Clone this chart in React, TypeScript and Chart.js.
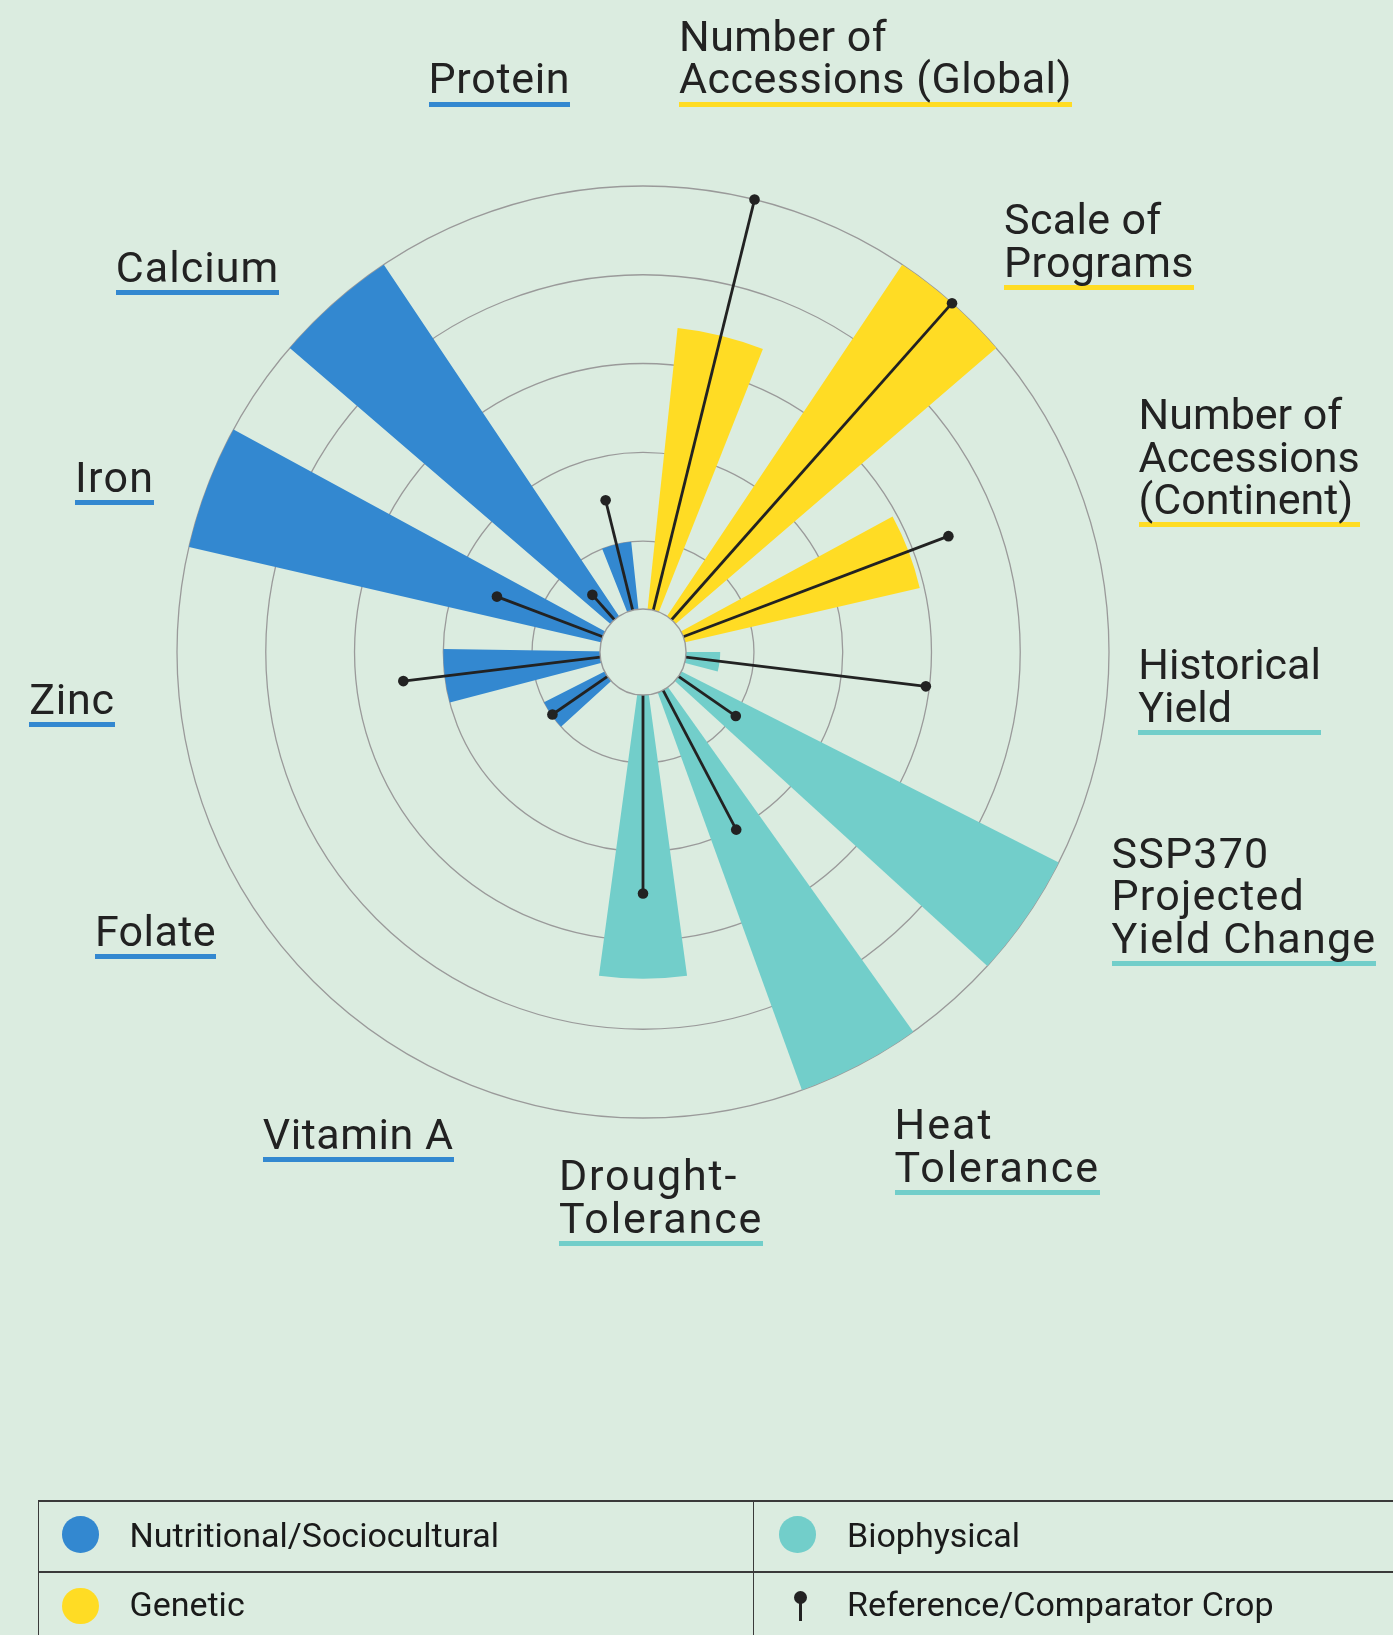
import React, { useEffect, useRef } from "react";
import { Chart, registerables } from "chart.js";

Chart.register(...registerables);

// ---------- data ----------
const categories = [
  "Number of Accessions (Global)",
  "Scale of Programs",
  "Number of Accessions (Continent)",
  "Historical Yield",
  "SSP370 Projected Yield Change",
  "Heat Tolerance",
  "Drought-Tolerance",
  "Vitamin A",
  "Folate",
  "Zinc",
  "Iron",
  "Calcium",
  "Protein",
];

const labelLines = [
  ["Number of", "Accessions (Global)"],
  ["Scale of", "Programs"],
  ["Number of", "Accessions", "(Continent)"],
  ["Historical", "Yield"],
  ["SSP370", "Projected", "Yield Change"],
  ["Heat", "Tolerance"],
  ["Drought-", "Tolerance"],
  ["Vitamin A"],
  ["Folate"],
  ["Zinc"],
  ["Iron"],
  ["Calcium"],
  ["Protein"],
];

const groups = [
  "Genetic",
  "Genetic",
  "Genetic",
  "Biophysical",
  "Biophysical",
  "Biophysical",
  "Biophysical",
  "Nutritional/Sociocultural",
  "Nutritional/Sociocultural",
  "Nutritional/Sociocultural",
  "Nutritional/Sociocultural",
  "Nutritional/Sociocultural",
  "Nutritional/Sociocultural",
];

// crop score (levels 0..5)
const cropValues = [3.42, 5, 2.95, 0.62, 5, 5, 3.43, 0, 1, 2, 5, 5, 1];
// reference / comparator crop score
const referenceValues: (number | null)[] = [5, 5, 3.43, 2.96, 1.02, 2.01, 2.47, null, 0.99, 2.47, 1.51, 0.61, 1.51];

const ringLevels = [1, 2, 3, 4, 5];

const legendItems = [
  "Nutritional/Sociocultural",
  "Biophysical",
  "Genetic",
  "Reference/Comparator Crop",
];

// ---------- styles / layout ----------
const BG = "#DBECE0";
const groupColors: Record<string, string> = {
  "Nutritional/Sociocultural": "#3388D0",
  Genetic: "#FFDC24",
  Biophysical: "#72CECA",
};
const TEXT = "#222222";
const FONT = "Roboto, 'Open Sans', sans-serif";

const sectorDeg = 360 / categories.length;
const barDeg = 15.5;
const gapDeg = sectorDeg - barDeg;
const holeLevel = 0.235;

// label anchors: left x, first baseline
const labelAnchors: [number, number][] = [
  [679, 50.6],
  [1004, 234.3],
  [1138.6, 428.8],
  [1138.3, 679],
  [1111.5, 867.6],
  [894.6, 1138.8],
  [558.9, 1190],
  [262.8, 1149],
  [94.9, 946],
  [29.2, 714],
  [75, 492],
  [115.7, 281.7],
  [428.5, 93.3],
];
// underline (block) widths
const labelWidths = [393, 189.8, 221, 182.5, 264.8, 205.4, 204.4, 190.8, 121, 85.5, 79.2, 163.7, 141.8];

let measureCtx: CanvasRenderingContext2D | null = null;
function textWidth(s: string, font: string): number {
  if (!measureCtx) measureCtx = document.createElement("canvas").getContext("2d");
  if (!measureCtx) return 0;
  measureCtx.font = font;
  return measureCtx.measureText(s).width;
}

const comparatorPlugin = {
  id: "comparator",
  afterDatasetsDraw(chart: any) {
    const scale = chart.scales.r;
    const ctx = chart.ctx;
    const cx = scale.xCenter;
    const cy = scale.yCenter;
    const start = scale.getIndexAngle(0);
    const hole = scale.getDistanceFromCenterForValue(holeLevel);
    ctx.save();
    referenceValues.forEach((v, i) => {
      if (v === null) return;
      const a = start + ((i * sectorDeg + barDeg / 2) * Math.PI) / 180 - Math.PI / 2;
      const r = scale.getDistanceFromCenterForValue(v);
      ctx.strokeStyle = "#222222";
      ctx.lineWidth = 2.8;
      ctx.beginPath();
      ctx.moveTo(cx + Math.cos(a) * hole, cy + Math.sin(a) * hole);
      ctx.lineTo(cx + Math.cos(a) * r, cy + Math.sin(a) * r);
      ctx.stroke();
      ctx.fillStyle = "#222222";
      ctx.beginPath();
      ctx.arc(cx + Math.cos(a) * r, cy + Math.sin(a) * r, 5.3, 0, Math.PI * 2);
      ctx.fill();
    });
    ctx.beginPath();
    ctx.arc(cx, cy, hole, 0, Math.PI * 2);
    ctx.fillStyle = BG;
    ctx.fill();
    ctx.strokeStyle = "#9a9a9a";
    ctx.lineWidth = 1.4;
    ctx.stroke();
    ctx.restore();
  },
};

export default function App() {
  const canvasRef = useRef<HTMLCanvasElement | null>(null);

  useEffect(() => {
    document.body.style.margin = "0";
    document.body.style.background = BG;
    const labels: string[] = [];
    const data: number[] = [];
    const colors: string[] = [];
    categories.forEach((c, i) => {
      labels.push(c);
      data.push(cropValues[i]);
      colors.push(groupColors[groups[i]]);
      labels.push("");
      data.push(0);
      colors.push("rgba(0,0,0,0)");
    });
    const chart = new Chart(canvasRef.current as HTMLCanvasElement, {
      type: "polarArea",
      data: {
        labels,
        datasets: [
          {
            data,
            backgroundColor: colors,
            borderWidth: 0,
            angle: (ctx: any) => (ctx.dataIndex % 2 === 0 ? barDeg : gapDeg),
          } as any,
        ],
      },
      options: {
        responsive: false,
        animation: false,
        devicePixelRatio: 1,
        events: [],
        layout: { padding: { left: 177, right: 284, top: 186, bottom: 517 } },
        plugins: { legend: { display: false }, tooltip: { enabled: false } },
        scales: {
          r: {
            min: -0.25,
            max: 5,
            startAngle: sectorDeg / 2 - barDeg / 2,
            ticks: { display: false, stepSize: 1 },
            pointLabels: { display: false },
            angleLines: { display: false },
            grid: { color: "#9a9a9a", lineWidth: 1.3, circular: true },
            afterBuildTicks: (s: any) => {
              s.ticks = ringLevels.map((value) => ({ value }));
            },
          } as any,
        },
      },
      plugins: [comparatorPlugin],
    });
    return () => chart.destroy();
  }, []);

  const labelLineHeight = 42.7;
  const labelBaselineOffset = 36.0;
  const legendBaselineOffset = 28.6;
  const labelFont = "43px Roboto";

  return (
    <div
      style={{
        position: "absolute",
        left: 0,
        top: 0,
        width: 1393,
        height: 1635,
        background: BG,
        overflow: "hidden",
        fontFamily: FONT,
      }}
    >
      <canvas
        ref={canvasRef}
        width={1393}
        height={1635}
        style={{ position: "absolute", left: 0, top: 0, width: 1393, height: 1635 }}
      />
      {labelLines.map((lines, i) => {
        let widest = lines[0];
        let wMax = 0;
        lines.forEach((l) => {
          const w = textWidth(l, labelFont);
          if (w > wMax) {
            wMax = w;
            widest = l;
          }
        });
        const ls = wMax > 0 ? (labelWidths[i] - wMax) / widest.length : 0;
        return (
          <div
            key={categories[i]}
            style={{
              position: "absolute",
              left: labelAnchors[i][0],
              top: labelAnchors[i][1] - labelBaselineOffset,
              width: labelWidths[i],
              fontSize: 43,
              letterSpacing: ls + "px",
              lineHeight: labelLineHeight + "px",
              color: TEXT,
              whiteSpace: "nowrap",
              paddingBottom: 1.5,
              borderBottom: "5.5px solid " + groupColors[groups[i]],
            }}
          >
            {lines.map((l, j) => (
              <div key={j}>{l}</div>
            ))}
          </div>
        );
      })}
      {/* legend table */}
      <div style={{ position: "absolute", left: 38, top: 1499.5, width: 1393 - 38, height: 2, background: "#3a3a3a" }} />
      <div style={{ position: "absolute", left: 38, top: 1571, width: 1393 - 38, height: 2, background: "#3a3a3a" }} />
      <div style={{ position: "absolute", left: 37.5, top: 1500, width: 1.5, height: 140, background: "#3a3a3a" }} />
      <div style={{ position: "absolute", left: 752.5, top: 1500, width: 1.5, height: 140, background: "#3a3a3a" }} />
      {[
        { x: 80.3, y: 1534.3, color: groupColors[legendItems[0]], tx: 129.5, base: 1546.7, text: legendItems[0] },
        { x: 797.6, y: 1534.3, color: groupColors[legendItems[1]], tx: 847, base: 1546.7, text: legendItems[1] },
        { x: 80.3, y: 1606, color: groupColors[legendItems[2]], tx: 129.5, base: 1616, text: legendItems[2] },
      ].map((it) => (
        <React.Fragment key={it.text}>
          <div
            style={{
              position: "absolute",
              left: it.x - 18.3,
              top: it.y - 18.3,
              width: 36.6,
              height: 36.6,
              borderRadius: "50%",
              background: it.color,
            }}
          />
          <div
            style={{
              position: "absolute",
              left: it.tx,
              top: it.base - legendBaselineOffset,
              fontSize: 34,
              lineHeight: "34px",
              color: "#1a1a1a",
              whiteSpace: "nowrap",
            }}
          >
            {it.text}
          </div>
        </React.Fragment>
      ))}
      <div style={{ position: "absolute", left: 800 - 6.5, top: 1597.5 - 6.5, width: 13, height: 13, borderRadius: "50%", background: "#222" }} />
      <div style={{ position: "absolute", left: 798.5, top: 1600, width: 3, height: 21, background: "#222" }} />
      <div
        style={{
          position: "absolute",
          left: 847,
          top: 1616 - legendBaselineOffset,
          fontSize: 34,
          lineHeight: "34px",
          color: "#1a1a1a",
          whiteSpace: "nowrap",
        }}
      >
        {legendItems[3]}
      </div>
    </div>
  );
}
